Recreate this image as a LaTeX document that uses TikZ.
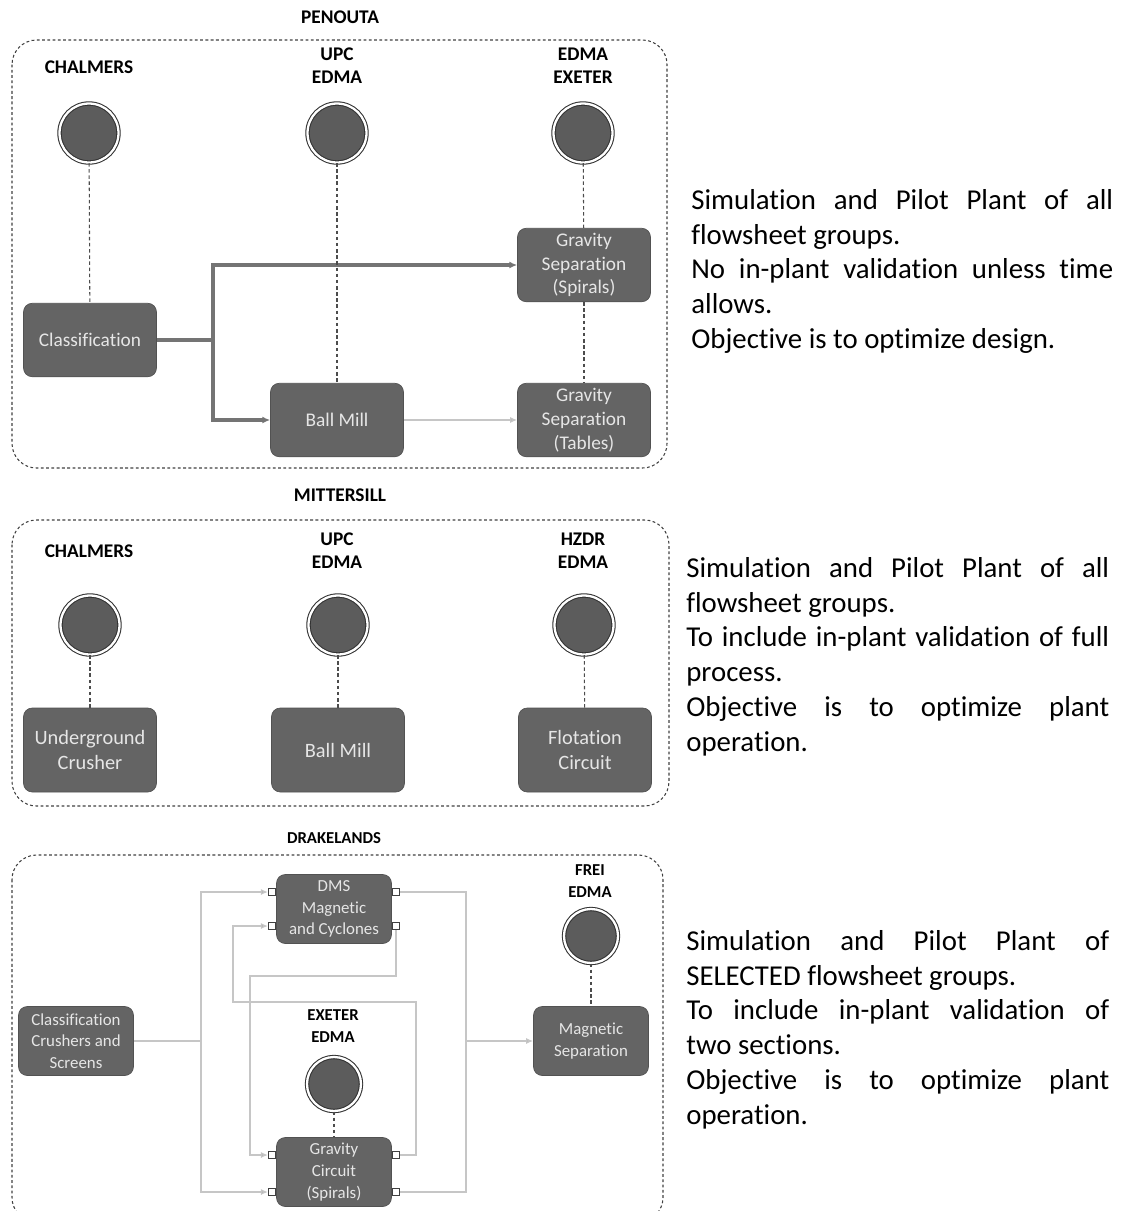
\documentclass[tikz,border=0pt]{standalone}
\usepackage{fontspec}
\setmainfont{Carlito}[Ligatures=NoCommon]
\usetikzlibrary{arrows.meta, positioning}

\definecolor{unitGray}{HTML}{646464}
\definecolor{unitEdge}{HTML}{525252}
\definecolor{unitText}{HTML}{E6E6E6}
\definecolor{dotGray}{HTML}{5C5C5C}
\definecolor{flowGray}{HTML}{747474}
\definecolor{feedGray}{HTML}{C6C6C6}

\tikzstyle{panel} = [draw=black!75, line width=0.6pt, dash pattern=on 1.6pt off 1.4pt, rounded corners=14pt]
\tikzstyle{unit} = [draw=unitEdge, fill=unitGray, text=unitText, rounded corners=5pt,
   align=center, minimum width=2.66cm, minimum height=1.47cm, inner sep=1pt,
   font=\fontsize{11}{13.6}\selectfont]
\tikzstyle{smallUnit} = [unit, minimum width=2.3cm, minimum height=1.38cm,
   font=\fontsize{9.6}{12.4}\selectfont]
\tikzstyle{partner} = [circle, draw=black!80, double=white, double distance=1.3pt,
   line width=0.6pt, fill=dotGray, minimum size=1.18cm, inner sep=0pt]
\tikzstyle{smallPartner} = [partner, minimum size=1.08cm]
\tikzstyle{who} = [font=\bfseries\fontsize{11}{13.2}\selectfont, align=center]
\tikzstyle{smallWho} = [font=\bfseries\fontsize{9.5}{12.2}\selectfont, align=center]
\tikzstyle{link} = [draw=black!70, dash pattern=on 2pt off 1.5pt, line width=0.6pt]
\tikzstyle{flow} = [draw=flowGray, line width=1.8pt]
\tikzstyle{feed} = [draw=feedGray, line width=0.9pt]
\tikzstyle{port} = [draw=black!75, fill=white, minimum size=0.14cm, inner sep=0pt, line width=0.6pt]
\tikzstyle{note} = [anchor=north west, text width=8.44cm, align=justify, inner sep=0pt,
   font=\fontsize{16.4}{19.8}\selectfont]

\begin{document}
\begin{tikzpicture}[x=0.02cm, y=-0.02cm, >={Latex[length=4.5pt,width=4pt]}]
	\useasboundingbox (0,0) rectangle (1124,1211);

	% PENOUTA
	\node[who] (penouta) at (340,17) {PENOUTA};
	\draw[panel] (12,40) rectangle (667,468);
	\node[who] (w11) at (89,67) {CHALMERS};
	\node[who] (w12) at (337,66) {UPC\\EDMA};
	\node[who] (w13) at (583,66) {EDMA\\EXETER};
	\node[partner] (p11) at (89,133) {};
	\node[partner] (p12) at (337,133) {};
	\node[partner] (p13) at (583,133) {};
	\node[unit] (classif) at (90,340) {Classification};
	\node[unit] (mill1) at (337,420) {Ball Mill};
	\node[unit] (spirals) at (584,265) {Gravity\\Separation\\(Spirals)};
	\node[unit] (tables) at (584,420) {Gravity\\Separation\\(Tables)};

	\coordinate (split) at (213,340);
	\draw[flow] (classif) -- (split);
	\draw[flow,->] (split) |- (spirals);
	\draw[flow,->] (split) |- (mill1);
	\draw[feed,->,>={Latex[length=4pt,width=3.5pt,fill=gray]}] (mill1) -- (tables);

	\draw[link] (p11) -- (classif);
	\draw[link] (p12) -- (mill1);
	\draw[link] (p13) -- (spirals);
	\draw[link] (spirals) -- (tables);

	\node[note] (n1) at (691,189) {Simulation and Pilot Plant of all\linebreak flowsheet groups.\par
		No in-plant validation unless time\linebreak allows.\par
		Objective is to optimize design.};

	% MITTERSILL
	\node[who] (mittersill) at (340,495) {MITTERSILL};
	\draw[panel] (12,520) rectangle (669,806);
	\node[who] (w21) at (89,551) {CHALMERS};
	\node[who] (w22) at (337,551) {UPC\\EDMA};
	\node[who] (w23) at (583,551) {HZDR\\EDMA};
	\node[partner] (p21) at (90,625) {};
	\node[partner] (p22) at (338,625) {};
	\node[partner] (p23) at (584,625) {};
	\node[unit, minimum height=1.68cm, font=\fontsize{11.6}{14.6}\selectfont] (crusher) at (90,750) {Underground\\Crusher};
	\node[unit, minimum height=1.68cm, font=\fontsize{11.6}{14.6}\selectfont] (mill2) at (338,750) {Ball Mill};
	\node[unit, minimum height=1.68cm, font=\fontsize{11.6}{14.6}\selectfont] (flot) at (585,750) {Flotation\\Circuit};

	\draw[link] (p21) -- (crusher);
	\draw[link] (p22) -- (mill2);
	\draw[link] (p23) -- (flot);

	\node[note, text width=8.46cm] (n2) at (686,557) {Simulation and Pilot Plant of all\linebreak flowsheet groups.\par
		To include in-plant validation of full\linebreak process.\par
		Objective is to optimize plant\linebreak operation.};

	% DRAKELANDS
	\node[smallWho] (drakelands) at (334,838) {DRAKELANDS};
	\draw[panel] (12,855) rectangle (663,1222);
	\node[smallWho] (w31) at (590,881) {FREI\\EDMA};
	\node[smallWho] (w32) at (333,1026) {EXETER\\EDMA};
	\node[smallPartner] (p31) at (591,936) {};
	\node[smallPartner] (p32) at (334,1084) {};
	\node[smallUnit] (screens) at (76,1041) {Classification\\Crushers and\\Screens};
	\node[smallUnit] (dms) at (334,909) {DMS\\Magnetic\\and Cyclones};
	\node[smallUnit] (grav) at (334,1172) {Gravity\\Circuit\\(Spirals)};
	\node[smallUnit] (magsep) at (591,1041) {Magnetic\\Separation};

	\node[port] (dmsIn1) at (272,892) {};
	\node[port] (dmsIn2) at (272,926) {};
	\node[port] (dmsOut1) at (396,892) {};
	\node[port] (dmsOut2) at (396,926) {};
	\node[port] (gravIn1) at (272,1155) {};
	\node[port] (gravIn2) at (272,1192) {};
	\node[port] (gravOut1) at (396,1155) {};
	\node[port] (gravOut2) at (396,1192) {};

	\coordinate (splitL) at (201,1041);
	\coordinate (splitR) at (466,1041);
	\coordinate (loopA) at (250,976);
	\coordinate (loopB) at (416,1002);
	\coordinate (loopC) at (233,1002);

	\begin{scope}[>={Latex[length=4pt,width=3.5pt,fill=gray]}]
		\draw[feed] (screens) -- (splitL);
		\draw[feed,->] (splitL) |- (dmsIn1);
		\draw[feed,->] (splitL) |- (gravIn2);
		\draw[feed] (dmsOut1) -| (splitR);
		\draw[feed] (gravOut2) -| (splitR);
		\draw[feed,->] (splitR) -- (magsep);
		\draw[feed,->] (dmsOut2.south) |- (loopA) |- (gravIn1);
		\draw[feed,->] (gravOut1) -| (loopB) -- (loopC) |- (dmsIn2);
	\end{scope}

	\draw[link] (p31) -- (magsep);
	\draw[link] (p32) -- (grav);

	\node[note, text width=8.46cm] (n3) at (686,930) {Simulation and Pilot Plant of\linebreak SELECTED flowsheet groups.\par
		To include in-plant validation of\linebreak two sections.\par
		Objective is to optimize plant\linebreak operation.};
\end{tikzpicture}
\end{document}
